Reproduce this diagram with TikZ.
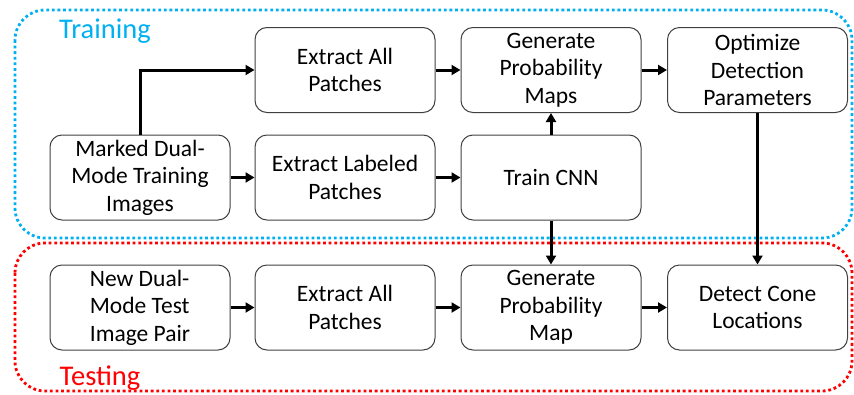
\documentclass[tikz,border=0pt]{standalone}
\usepackage{fontspec}
\setmainfont{Carlito}
\usetikzlibrary{arrows.meta}
\definecolor{traincol}{RGB}{0,176,240}
\definecolor{testcol}{RGB}{255,0,0}
\definecolor{boxcol}{RGB}{64,64,64}
\tikzset{
  procbox/.style={draw=boxcol, line width=1pt, rounded corners=12pt, minimum width=180pt, minimum height=85pt, align=center, font=\fontsize{23.5}{27.5}\selectfont, inner sep=0pt},
  flow/.style={line width=3pt, -{Triangle[length=9pt,width=10pt]}},
  region/.style={line width=2.8pt, dash pattern=on 2.8pt off 2.8pt, rounded corners=30pt},
  regionlabel/.style={font=\fontsize{28.5}{32}\selectfont, inner sep=0pt}
}
\begin{document}
\begin{tikzpicture}[x=1pt,y=-1pt]
\useasboundingbox (0,0) rectangle (854,394);
\draw[region, traincol] (15,10) rectangle (852,238);
\draw[region, testcol] (15,243) rectangle (852,391);
\node[regionlabel, text=traincol] (trl) at (105,31) {Training};
\node[regionlabel, text=testcol] (tel) at (100,378) {Testing};

\node[procbox] (m) at (140,177.5) {Marked Dual-\\Mode Training\\Images};
\node[procbox] (ea1) at (345,70) {Extract All\\Patches};
\node[procbox] (el) at (345,177.5) {Extract Labeled\\Patches};
\node[procbox] (gpm) at (551,70) {Generate\\Probability\\Maps};
\node[procbox] (cnn) at (551,177.5) {Train CNN};
\node[procbox] (opt) at (757.5,70) {Optimize\\Detection\\Parameters};
\node[procbox, align=left] (nd) at (140,307.5) {New Dual-\\Mode Test\\Image Pair};
\node[procbox] (ea2) at (345,307.5) {Extract All\\Patches};
\node[procbox] (gp) at (551,307.5) {Generate\\Probability\\Map};
\node[procbox] (dc) at (757.5,307.5) {Detect Cone\\Locations};

\draw[flow] (m.north) |- (ea1.west);
\draw[flow] (m) -- (el);
\draw[flow] (el) -- (cnn);
\draw[flow] (ea1) -- (gpm);
\draw[flow] (gpm) -- (opt);
\draw[flow] (cnn) -- (gpm);
\draw[flow] (cnn) -- (gp);
\draw[flow] (opt) -- (dc);
\draw[flow] (nd) -- (ea2);
\draw[flow] (ea2) -- (gp);
\draw[flow] (gp) -- (dc);
\end{tikzpicture}
\end{document}
